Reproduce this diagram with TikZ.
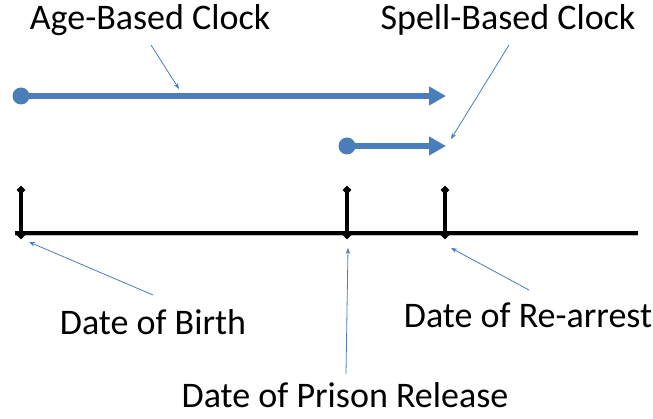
\documentclass[tikz,border=0pt]{standalone}
\usepackage{fontspec}
\setmainfont{Carlito}
\usetikzlibrary{arrows.meta,shapes.geometric}
\definecolor{obl}{HTML}{4A7EBB}
\tikzset{
  lbl/.style={inner sep=0pt, anchor=base, font=\fontsize{36}{40}\selectfont},
  thin/.style={draw=obl, line width=0.8pt, -{Stealth[length=6pt,width=4.5pt]}},
  clock/.style={draw=obl, line width=5.5pt, -{Triangle[length=17pt,width=18pt]}},
  clockdot/.style={circle, fill=obl, inner sep=0pt, minimum size=17pt},
  tick/.style={draw=black, line width=3.2pt},
  dia/.style={diamond, fill=black, inner sep=0pt, minimum size=9pt},
}
\begin{document}
\begin{tikzpicture}[x=1pt,y=1pt]
\useasboundingbox (0,0) rectangle (653,419);
% labels
\node[lbl] (age) at (150,389) {Age-Based Clock};
\node[lbl] (spell) at (508,389) {Spell-Based Clock};
\node[lbl] (birth) at (153,84) {Date of Birth};
\node[lbl] (rearr) at (528,91) {Date of Re-arrest};
\node[lbl] (release) at (345,11) {Date of Prison Release};
% clocks
\node[clockdot] (d1) at (21,323) {};
\coordinate (t1) at (446,323);
\node[clockdot] (d2) at (347,273) {};
\coordinate (t2) at (446,273);
\draw[clock] (d1.center) -- (t1);
\draw[clock] (d2.center) -- (t2);
% timeline
\coordinate (L) at (15,186);
\coordinate (R) at (638,186);
\draw[black!25, line width=3.8pt] ([yshift=-1.5pt]L) -- ([yshift=-1.5pt]R);
\draw[black, line width=3.5pt] (L) -- (R);
\node[dia] (b0) at (21,184) {}; \node[dia] (b1) at (21,229) {};
\node[dia] (p0) at (347,184) {}; \node[dia] (p1) at (347,229) {};
\node[dia] (r0) at (445,184) {}; \node[dia] (r1) at (445,229) {};
\draw[tick] (b0.center) -- (b1.center);
\draw[tick] (p0.center) -- (p1.center);
\draw[tick] (r0.center) -- (r1.center);
% pointers
\coordinate (agep) at (151,374); \coordinate (agetip) at (179,330);
\coordinate (spellp) at (509,374); \coordinate (spelltip) at (451,280);
\coordinate (birthp) at (153,124); \coordinate (birthtip) at (29,177);
\coordinate (rearrp) at (529,129); \coordinate (rearrtip) at (451,171);
\coordinate (relp) at (346,45); \coordinate (reltip) at (348,171);
\draw[thin] (agep) -- (agetip);
\draw[thin] (spellp) -- (spelltip);
\draw[thin] (birthp) -- (birthtip);
\draw[thin] (rearrp) -- (rearrtip);
\draw[thin] (relp) -- (reltip);
\end{tikzpicture}
\end{document}
